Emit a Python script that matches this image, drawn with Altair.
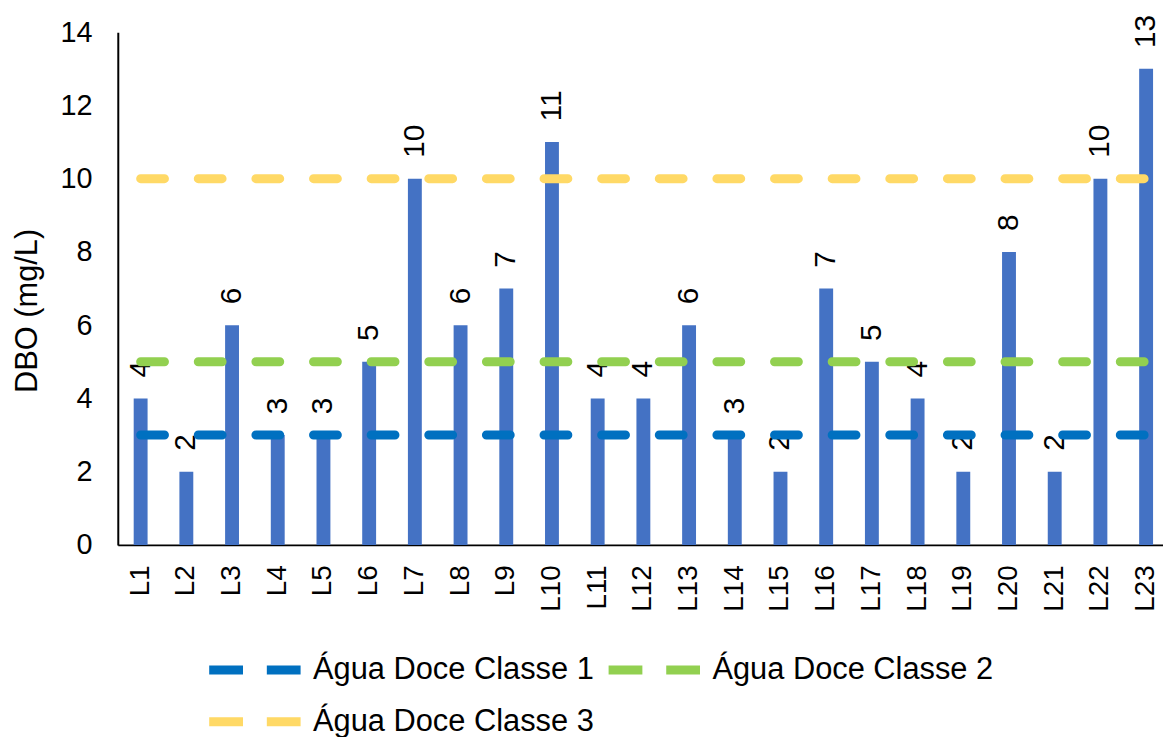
import altair as alt
import pandas as pd

sites = ["L1", "L2", "L3", "L4", "L5", "L6", "L7", "L8", "L9", "L10", "L11", "L12",
         "L13", "L14", "L15", "L16", "L17", "L18", "L19", "L20", "L21", "L22", "L23"]
dbo = [4, 2, 6, 3, 3, 5, 10, 6, 7, 11, 4, 4, 6, 3, 2, 7, 5, 4, 2, 8, 2, 10, 13]

series_names = ["Água Doce Classe 1", "Água Doce Classe 2", "Água Doce Classe 3"]
series_limits = [3, 5, 10]
series_colors = ["#0070C0", "#92D050", "#FFD966"]
bar_color = "#4472C4"
y_ticks = [0, 2, 4, 6, 8, 10, 12, 14]

FONT = "Liberation Sans"

bars_df = pd.DataFrame({"site": sites, "dbo": dbo})
lines_df = pd.DataFrame(
    [{"site": s, "serie": n, "valor": v}
     for n, v in zip(series_names, series_limits) for s in sites]
)

x_scale = alt.Scale(domain=sites, range=[0, 1058], paddingInner=0.696, paddingOuter=0.348)
x_axis = alt.Axis(title=None, labelAngle=270, labelAlign="right", labelBaseline="middle",
                  labelPadding=20, labelFontSize=28, labelFont=FONT, labelColor="black",
                  ticks=False, domainColor="black", domainWidth=2)
y_scale = alt.Scale(domain=[0, 14], nice=False)
y_axis = alt.Axis(values=y_ticks, grid=False, ticks=False, title="DBO (mg/L)",
                  titleFontSize=31, titleFont=FONT, titleFontWeight="normal", titleColor="black",
                  titleAngle=270, titleAlign="center", titleBaseline="middle",
                  titleX=-90.5, titleY=280,
                  labelPadding=26, labelFontSize=29, labelFont=FONT, labelColor="black",
                  domainColor="black", domainWidth=2)

bars = alt.Chart(bars_df).mark_bar(color=bar_color).encode(
    x=alt.X("site:N", sort=sites, scale=x_scale, axis=x_axis),
    y=alt.Y("dbo:Q", scale=y_scale, axis=y_axis),
)

labels = alt.Chart(bars_df).mark_text(
    angle=270, align="left", baseline="middle", dx=21, fontSize=30, font=FONT, color="black"
).encode(
    x=alt.X("site:N", sort=sites, scale=x_scale),
    y=alt.Y("dbo:Q", scale=y_scale),
    text=alt.Text("dbo:Q"),
)

lines = alt.Chart(lines_df).mark_line(
    strokeWidth=9, strokeDash=[24, 34], strokeCap="round"
).encode(
    x=alt.X("site:N", sort=sites, scale=x_scale),
    y=alt.Y("valor:Q", scale=y_scale),
    color=alt.Color(
        "serie:N",
        scale=alt.Scale(domain=series_names, range=series_colors),
        legend=alt.Legend(
            title=None, orient="none", legendX=87.5, legendY=622,
            direction="horizontal", columns=2,
            symbolType="stroke", symbolSize=92 * 92, symbolStrokeWidth=9,
            symbolDash=[34, 24], labelFontSize=31, labelFont=FONT, labelColor="black",
            labelLimit=0, columnPadding=10, rowPadding=12, labelOffset=8,
            clipHeight=40,
        ),
    ),
)

chart = alt.layer(bars, labels, lines).properties(
    width=1044, height=516,
    autosize=alt.AutoSizeParams(type="none"),
    padding={"left": 110.5, "top": 22, "right": 8, "bottom": 191},
).configure_view(stroke=None)

chart.save("out.html", embed_options={"renderer": "svg", "actions": False})
